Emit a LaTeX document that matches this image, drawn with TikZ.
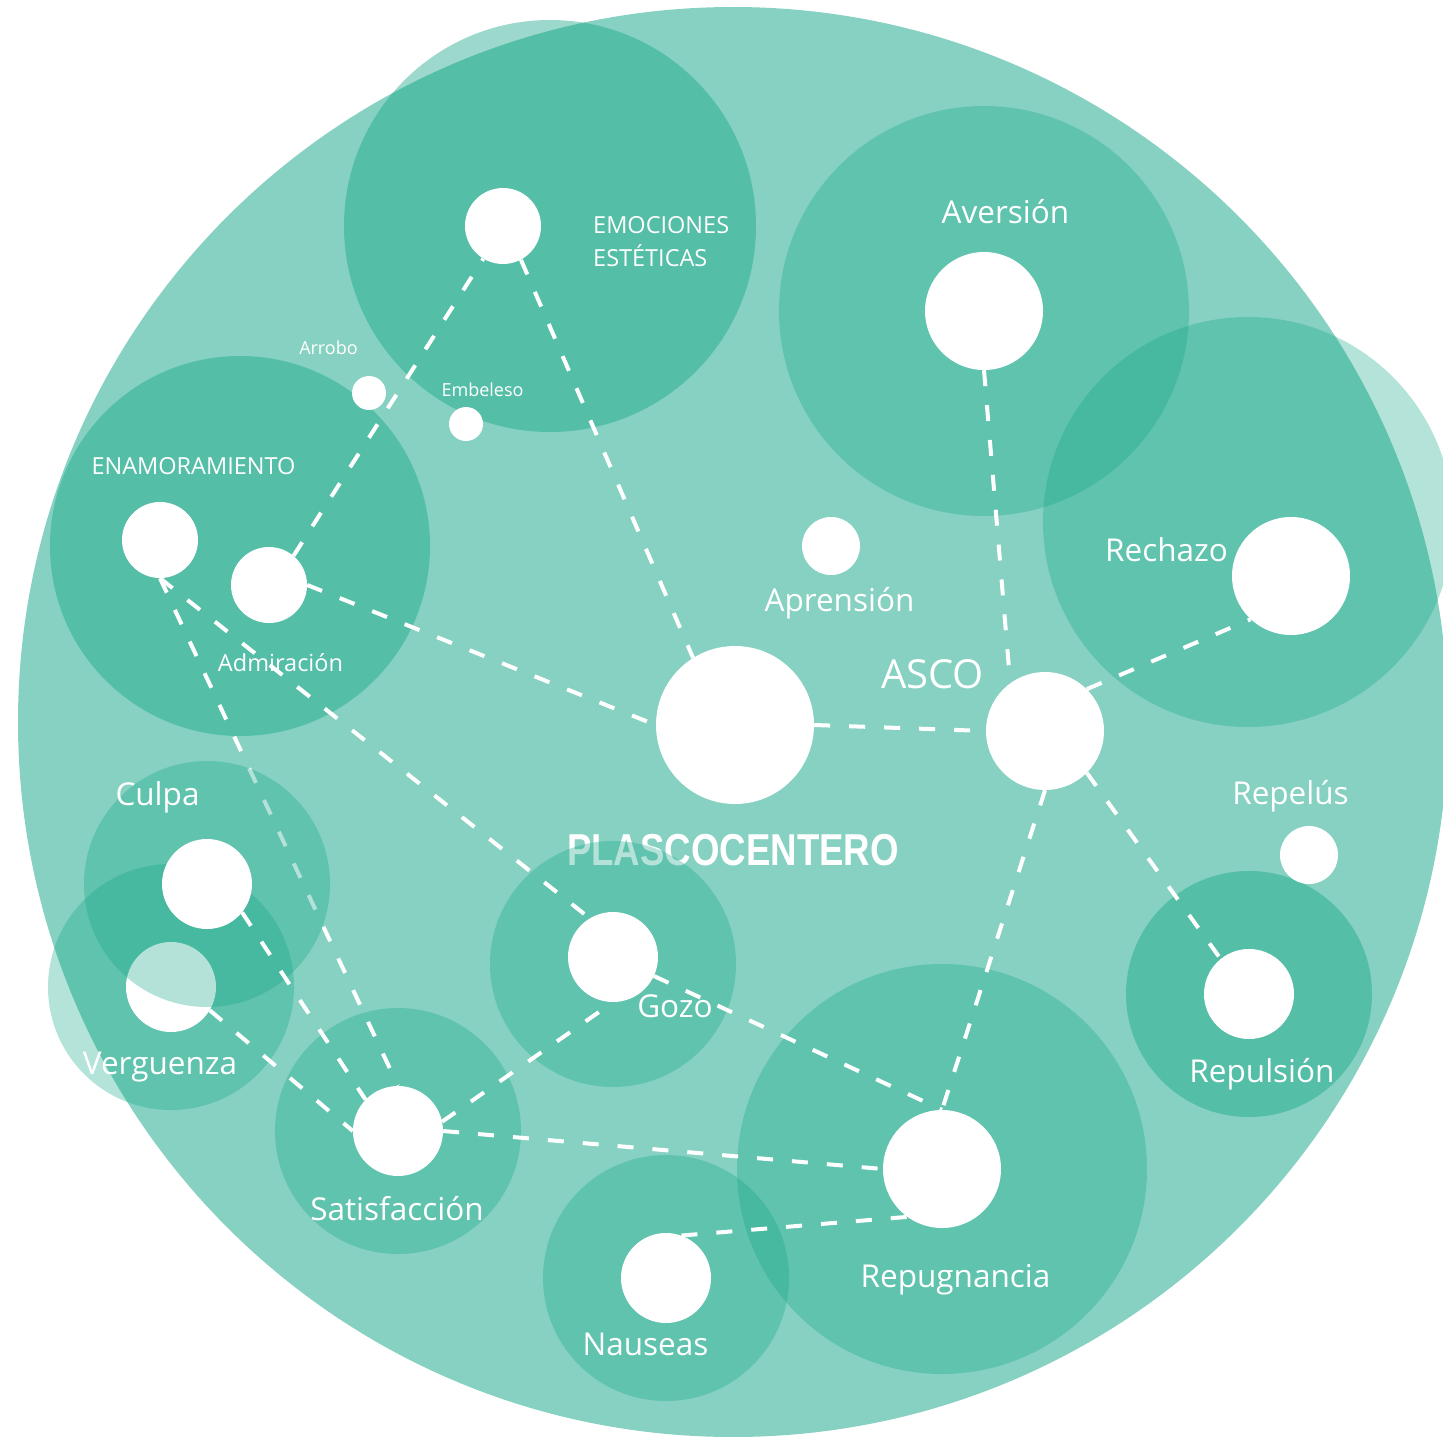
\documentclass[tikz,border=0pt]{standalone}
\usepackage{fontspec}
\setmainfont{Open Sans}
\newfontfamily\plasfont[FakeStretch=0.82]{Liberation Sans}
\definecolor{ascoteal}{RGB}{8,161,128}
\tikzset{
    spot/.style={circle,fill=white,inner sep=0pt,minimum size=#1},
    blob/.style={fill=ascoteal,fill opacity=0.49},
    halo/.style={fill=ascoteal,fill opacity=0.3},
    deep halo/.style={fill=ascoteal,fill opacity=0.4},
    link/.style={draw=white,line width=4pt,dash pattern=on 16pt off 19pt},
    every edge/.style={link},
    tag/.style={text=white,inner sep=0pt,anchor=base,font=\fontsize{31.5}{37}\selectfont},
    midtag/.style={tag,font=\fontsize{23.5}{33}\selectfont},
    smalltag/.style={tag,font=\fontsize{18}{22}\selectfont},
}

\begin{document}
\begin{tikzpicture}[x=1pt,y=-1pt]
    \clip (0,0) rectangle (1443,1437);
    \fill[blob] (733,722) circle[radius=715pt];

    % families
    \fill[deep halo] (550,226) circle[radius=206pt];
    \fill[deep halo] (240,546) circle[radius=190pt];
    \fill[halo] (984,311) circle[radius=205pt];
    \fill[halo] (1248,522) circle[radius=205pt];
    \fill[halo] (171,987) circle[radius=123pt];
    \fill[halo] (398,1131) circle[radius=123pt];
    \fill[halo] (666,1278) circle[radius=123pt];
    \fill[halo] (942,1169) circle[radius=205pt];
    \fill[deep halo] (1249,994) circle[radius=123pt];

    \node[text=white,inner sep=0pt,anchor=base,font=\plasfont\bfseries\fontsize{44.7}{50}\selectfont] (title) at (733,865) {PLASCOCENTERO};
    \fill[halo] (613,964) circle[radius=123pt];

    % emotions
    \node[spot=76pt] (emo) at (503,226) {};
    \node[spot=34pt] (arrobo) at (369,393) {};
    \node[spot=34pt] (embel) at (466,424) {};
    \node[spot=76pt] (enam) at (160,540) {};
    \node[spot=76pt] (adm) at (269,585) {};
    \node[spot=118pt] (aver) at (984,311) {};
    \node[spot=58pt] (apren) at (831,546) {};
    \node[spot=118pt] (rech) at (1291,576) {};
    \node[spot=158pt] (plas) at (735,725) {};
    \node[spot=118pt] (asco) at (1045,731) {};
    \node[spot=58pt] (repel) at (1309,855) {};
    \node[spot=90pt] (verg) at (171,987) {};
    \node[spot=90pt] (gozo) at (613,957) {};
    \node[spot=90pt] (repul) at (1249,994) {};
    \node[spot=90pt] (satis) at (398,1131) {};
    \node[spot=118pt] (repug) at (942,1169) {};
    \node[spot=90pt] (naus) at (666,1278) {};

    \draw[link] (enam.south) -- (satis.north);
    \fill[halo] (207,884) circle[radius=123pt];
    \node[spot=90pt] (culpa) at (207,884) {};

    \path
    (emo.-62) edge (plas.122)
    (adm.50) edge (emo.-121)
    (adm.east) edge (plas.west)
    (plas.east) edge (asco.west)
    (aver.south) edge (asco.126)
    (asco.45) edge (rech.-133)
    (asco.-45) edge (repul.129)
    (asco.south) edge (repug.north)
    (gozo) edge (repug.north)
    (enam.south) edge (gozo.121)
    (culpa.-39) edge (satis.136)
    (verg.-31) edge (satis.west)
    (satis.12) edge (gozo.south)
    (satis.east) edge (repug.west)
    (naus.70) edge (repug.-126);

    % labels
    \node[midtag,align=left,anchor=north west] (t-emo) at (593,216) {EMOCIONES\\ESTÉTICAS};
    \node[smalltag] (t-arrobo) at (328.5,354) {Arrobo};
    \node[smalltag] (t-embel) at (482.5,396) {Embeleso};
    \node[midtag] (t-enam) at (193.5,474) {ENAMORAMIENTO};
    \node[midtag] (t-adm) at (280.5,671) {Admiración};
    \node[tag] (t-aver) at (1005.5,223) {Aversión};
    \node[tag] (t-apren) at (839.5,611) {Aprensión};
    \node[tag,font=\fontsize{40}{46}\selectfont] (t-asco) at (932.5,688) {ASCO};
    \node[tag] (t-rech) at (1166.5,561) {Rechazo};
    \node[tag] (t-repel) at (1290.5,804) {Repelús};
    \node[tag] (t-culpa) at (157.5,805) {Culpa};
    \node[tag] (t-verg) at (160,1074) {Verguenza};
    \node[tag] (t-gozo) at (675,1017) {Gozo};
    \node[tag] (t-repul) at (1262,1082) {Repulsión};
    \node[tag] (t-satis) at (397,1220) {Satisfacción};
    \node[tag] (t-repug) at (955.5,1287) {Repugnancia};
    \node[tag] (t-naus) at (645.5,1355) {Nauseas};
\end{tikzpicture}
\end{document}
